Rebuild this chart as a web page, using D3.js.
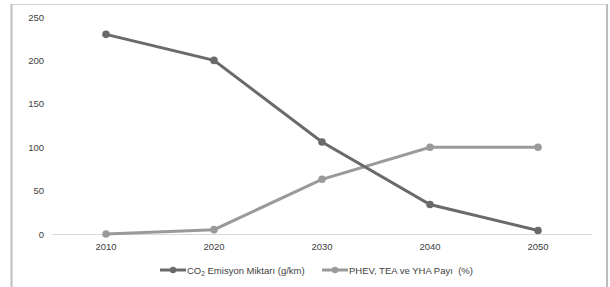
<!DOCTYPE html>
<html>
<head>
<meta charset="utf-8">
<script src="https://cdn.jsdelivr.net/npm/d3@7"></script>
<style>
  body { margin: 0; background: #fff; }
  text { font-family: "Liberation Sans", Arial, sans-serif; }
</style>
</head>
<body>
<div id="chart"></div>
<script>
const years = ["2010", "2020", "2030", "2040", "2050"];
const co2Values = [230, 200, 106, 34, 4];
const shareValues = [0, 5, 63, 100, 100];
const yTicks = [0, 50, 100, 150, 200, 250];
const seriesNames = ["CO2 Emisyon Miktarı (g/km)", "PHEV, TEA ve YHA Payı  (%)"];

const width = 610, height = 287;
const margin = {top: 17, right: 18, bottom: 53, left: 52};

const svg = d3.select("#chart").append("svg")
    .attr("width", width)
    .attr("height", height);

// frame around the chart
svg.append("path")
    .attr("d", "M11.5,287 V4.5 H606.5 V287")
    .attr("fill", "none")
    .attr("stroke", "#d4d4d4")
    .attr("stroke-width", 1);
svg.append("line").attr("x1", 11.5).attr("x2", 11.5).attr("y1", 4).attr("y2", 287)
    .attr("stroke", "#bdbdbd").attr("stroke-width", 2);
svg.append("line").attr("x1", 607).attr("x2", 607).attr("y1", 4).attr("y2", 287)
    .attr("stroke", "#bdbdbd").attr("stroke-width", 2);

let x = d3.scaleBand()
    .domain(years)
    .range([margin.left, width - margin.right]);

let y = d3.scaleLinear()
    .domain([0, 250])
    .range([height - margin.bottom, margin.top]);

// y labels (no axis line)
svg.append("g")
    .attr("transform", `translate(${margin.left},0)`)
    .call(d3.axisLeft(y).tickValues(yTicks).tickSize(0).tickPadding(8))
    .call(g => g.select(".domain").remove())
    .selectAll("text")
    .attr("font-size", 9.5)
    .attr("fill", "#404040");

// x axis
svg.append("g")
    .attr("transform", `translate(0,${y(0)})`)
    .call(d3.axisBottom(x).tickSize(0).tickPadding(9))
    .call(g => g.select(".domain").attr("stroke", "#d9d9d9").attr("stroke-width", 1))
    .selectAll("text")
    .attr("font-size", 9.5)
    .attr("fill", "#404040");

const series = [
  {name: seriesNames[0], values: co2Values, color: "#6a6a6a"},
  {name: seriesNames[1], values: shareValues, color: "#9a9a9a"}
];

const cx = (d, i) => x(years[i]) + x.bandwidth() / 2;

let line = d3.line()
    .x((d, i) => cx(d, i))
    .y(d => y(d));

series.slice().reverse().forEach(s => {
  svg.append("path")
      .datum(s.values)
      .attr("d", line)
      .attr("fill", "none")
      .attr("stroke", s.color)
      .attr("stroke-width", 3);

  svg.append("g")
      .selectAll("circle")
      .data(s.values)
      .enter().append("circle")
      .attr("cx", (d, i) => cx(d, i))
      .attr("cy", d => y(d))
      .attr("r", 3.8)
      .attr("fill", s.color);
});

// legend
const legendX = [160, 322];
const legend = svg.append("g").attr("transform", "translate(0,270)");
series.forEach((s, i) => {
  let g = legend.append("g").attr("transform", `translate(${legendX[i]},0)`);
  g.append("line").attr("x1", 0).attr("x2", 26).attr("y1", 0).attr("y2", 0)
      .attr("stroke", s.color).attr("stroke-width", 3);
  g.append("circle").attr("cx", 13).attr("cy", 0).attr("r", 3.2).attr("fill", s.color);
  let t = g.append("text")
      .attr("x", 27)
      .attr("y", 3.5)
      .attr("font-size", 9.5)
      .attr("fill", "#404040");
  if (i === 0) {
    t.append("tspan").text("CO");
    t.append("tspan").attr("font-size", 6.5).attr("dy", 2).text("2");
    t.append("tspan").attr("dy", -2).text(" Emisyon Miktarı (g/km)");
  } else {
    t.text(s.name).style("white-space", "pre");
  }
});
</script>
</body>
</html>
